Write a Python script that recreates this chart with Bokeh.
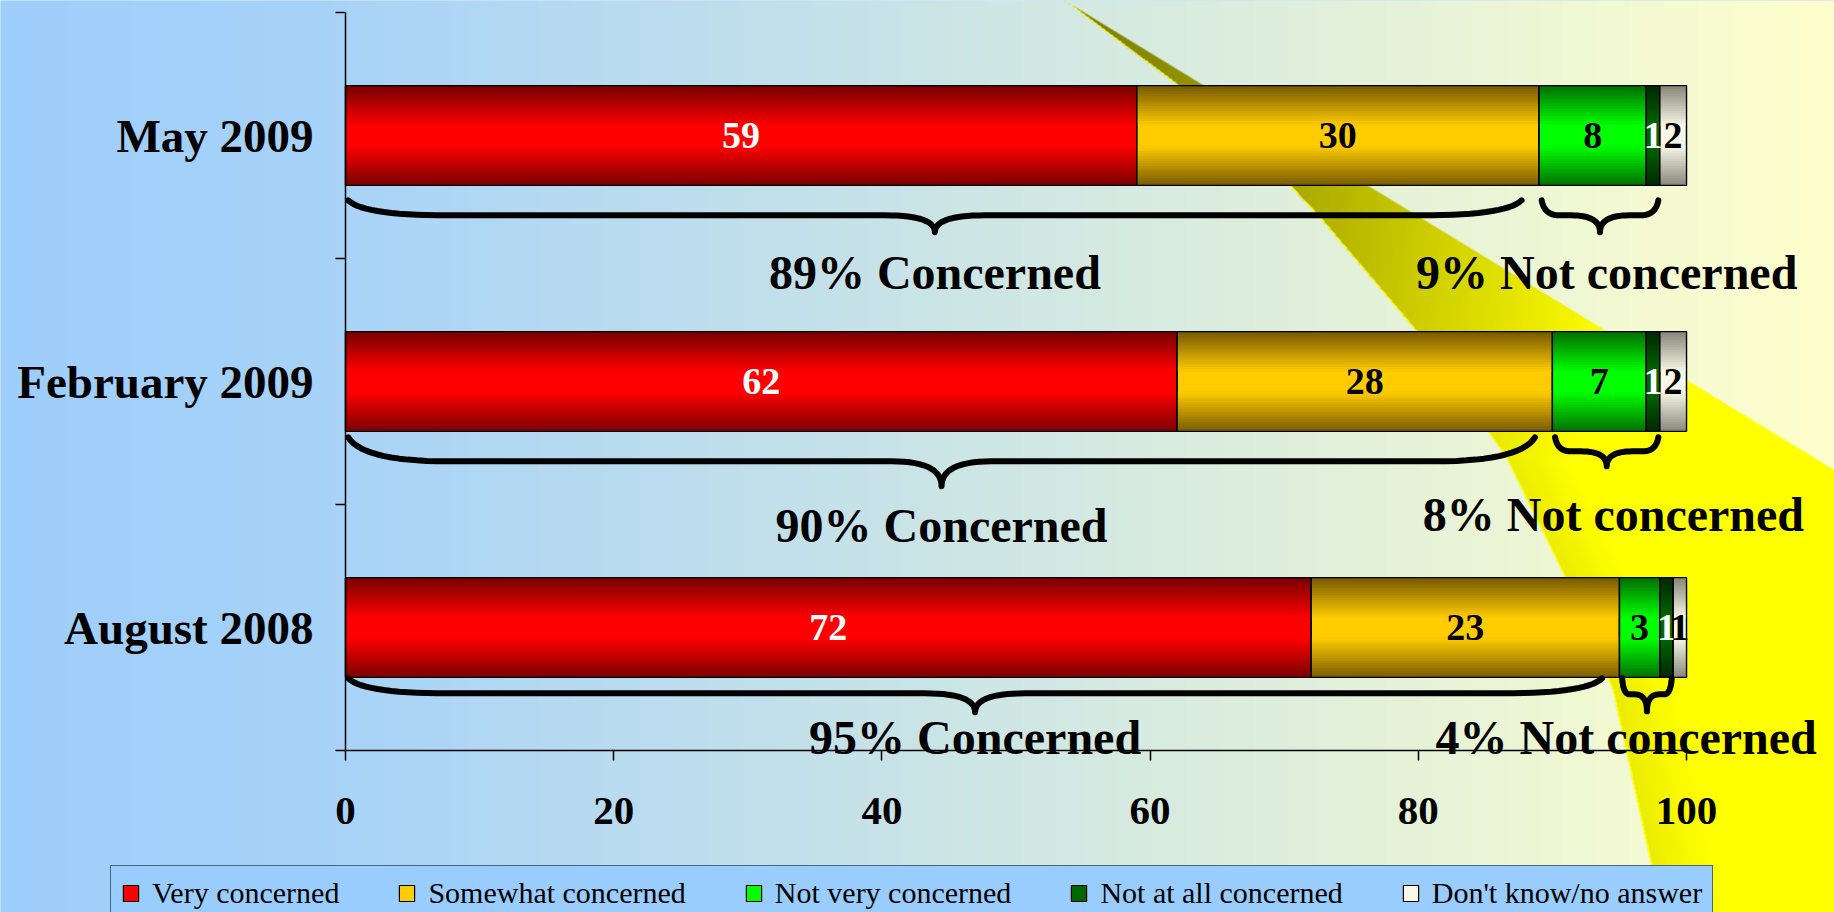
import numpy as np
from bokeh.plotting import figure
from bokeh.models import Range1d, FixedTicker, ColumnDataSource, Legend, LegendItem
from bokeh.core.properties import value
from bokeh.embed import file_html
from bokeh.resources import INLINE

# ---------------- data ----------------
categories = ["May 2009", "February 2009", "August 2008"]
series_names = ["Very concerned", "Somewhat concerned", "Not very concerned",
                "Not at all concerned", "Don't know/no answer"]
very_concerned = [59, 62, 72]
somewhat_concerned = [30, 28, 23]
not_very_concerned = [8, 7, 3]
not_at_all_concerned = [1, 1, 1]
dont_know = [2, 2, 1]
x_ticks = [0, 20, 40, 60, 80, 100]

series_values = [very_concerned, somewhat_concerned, not_very_concerned,
                 not_at_all_concerned, dont_know]

# ---------------- style ----------------
center_colors = ["#FF0000", "#FFCC00", "#00FF00", "#006600", "#F8F8E8"]
edge_colors = ["#780000", "#785A00", "#007000", "#002800", "#86867A"]
label_colors = ["white", "black", "black", "white", "black"]
SERIF = "Liberation Serif"

W, H = 1834, 912
X_ZERO_PX = 345.0
PX_PER_UNIT = 13.41
Y_TOP_PX = 12.0
BAND_PX = 246.0
n = len(categories)
X0 = -X_ZERO_PX / PX_PER_UNIT
X1 = (W - X_ZERO_PX) / PX_PER_UNIT
Y_TOP = n - 0.5
Y1 = Y_TOP + Y_TOP_PX / BAND_PX
Y0 = Y_TOP - (H - Y_TOP_PX) / BAND_PX
BAR_H = 0.405


def dxu(px):
    return px / PX_PER_UNIT


def dyu(px):
    return px / BAND_PX


ypos = [n - 1 - i for i in range(n)]

p = figure(width=W, height=H, x_range=Range1d(X0, X1), y_range=Range1d(Y0, Y1),
           output_backend="svg", toolbar_location=None, title=None, min_border=0)
p.outline_line_color = None
p.xgrid.visible = False
p.ygrid.visible = False
p.background_fill_color = "#A0CFFA"
p.border_fill_color = "#A0CFFA"

# ---------------- background (gradient + swoosh) ----------------
u = np.arange(W) + 0.5
v = np.arange(H) + 0.5
RX, RY = np.meshgrid(u, v)
bg = np.zeros((H, W, 3))
for ch, stops in enumerate([[158, 168, 255], [206, 211, 255], [252, 248, 204]]):
    bg[:, :, ch] = np.interp(RX, [0, 330, 1834], stops)

cy = [0, 83, 183, 217, 330, 456, 576, 689, 912, 1000]
cx = [1064, 1175, 1287, 1319, 1415, 1505, 1564, 1612, 1661, 1680]
xl = np.interp(RY, cy, cx)
dxl = RX - xl
slope = 0.61
dline = (RY - slope * (RX - 1064)) / np.sqrt(1 + slope ** 2)
alpha = np.clip(dxl + 0.5, 0, 1) * np.clip(dline + 0.5, 0, 1)
s = np.clip(RY / 500 + dxl / 500 - 0.05, 0, 1)
s = np.minimum(s, 0.85 + dxl / 400)
olive = np.array([128, 128, 0.0])
yellow = np.array([255, 255, 0.0])
sw = olive[None, None, :] + s[:, :, None] * (yellow - olive)[None, None, :]
hl = (dxl >= 0) & (dxl < 1.6)
sw[hl] = yellow
img = bg * (1 - alpha[:, :, None]) + sw * alpha[:, :, None]
img = np.flipud(img).astype(np.uint8)
rgba = np.empty((H, W), dtype=np.uint32)
view = rgba.view(dtype=np.uint8).reshape((H, W, 4))
view[:, :, 0] = img[:, :, 0]
view[:, :, 1] = img[:, :, 1]
view[:, :, 2] = img[:, :, 2]
view[:, :, 3] = 255
p.image_rgba(image=[rgba], x=X0, y=Y0, dw=X1 - X0, dh=Y1 - Y0)


# ---------------- bars ----------------
def hex2rgb(h):
    h = h.lstrip("#")
    return np.array([int(h[i:i + 2], 16) for i in (0, 2, 4)], dtype=float)


N_STRIPS = 40
legend_items = []
lefts = [0.0] * n
lab_x, lab_y, lab_t, lab_c = [], [], [], []
outline_data = dict(y=[], left=[], right=[])
for si, (name, vals) in enumerate(zip(series_names, series_values)):
    left = list(lefts)
    right = [l + v_ for l, v_ in zip(left, vals)]
    base = p.hbar(y=ypos, left=left, right=right, height=BAR_H,
                  fill_color=center_colors[si], line_color="black", line_width=1.2)
    legend_items.append(LegendItem(label=name, renderers=[base]))
    ce, ed = hex2rgb(center_colors[si]), hex2rgb(edge_colors[si])
    sy, sl, sr, sc = [], [], [], []
    for ci in range(n):
        for k in range(N_STRIPS):
            t = (k + 0.5) / N_STRIPS
            d = abs(2 * t - 1)
            f = min(1.0, max(0.0, (1 - d) / 0.8))
            if f >= 1.0:
                continue
            col = ed + (ce - ed) * f
            sy.append(ypos[ci] - BAR_H / 2 + t * BAR_H)
            sl.append(left[ci])
            sr.append(right[ci])
            sc.append("#%02x%02x%02x" % tuple(int(round(c)) for c in col))
    p.hbar(y="y", left="left", right="right", height=BAR_H / N_STRIPS + dyu(1.0),
           fill_color="color", line_color=None,
           source=ColumnDataSource(dict(y=sy, left=sl, right=sr, color=sc)))
    for ci in range(n):
        outline_data["y"].append(ypos[ci])
        outline_data["left"].append(left[ci])
        outline_data["right"].append(right[ci])
        lab_x.append((left[ci] + right[ci]) / 2)
        lab_y.append(ypos[ci])
        lab_t.append(str(vals[ci]))
        lab_c.append(label_colors[si])
    lefts = right

p.hbar(y="y", left="left", right="right", height=BAR_H, fill_color=None,
       line_color="black", line_width=1.3, source=ColumnDataSource(outline_data))

p.text(x="x", y="y", text="t", text_color="c",
       source=ColumnDataSource(dict(x=lab_x, y=lab_y, t=lab_t, c=lab_c)),
       text_font=value(SERIF), text_font_style="bold", text_font_size="38px",
       text_align="center", text_baseline="middle")


# ---------------- braces ----------------
def qbez(p0, c, p2, m=16):
    t = np.linspace(0, 1, m)
    xs = (1 - t) ** 2 * p0[0] + 2 * (1 - t) * t * c[0] + t ** 2 * p2[0]
    ys = (1 - t) ** 2 * p0[1] + 2 * (1 - t) * t * c[1] + t ** 2 * p2[1]
    return list(xs), list(ys)


def brace_path(x0, x1, ytop, arm_px, tip_px):
    wpx = (x1 - x0) * PX_PER_UNIT
    r = dxu(min(100.0, 0.15 * wpx))
    rt = dxu(min(50.0, 0.25 * wpx))
    xm = (x0 + x1) / 2
    yl = ytop - dyu(arm_px)
    yt = yl - dyu(tip_px)
    xs, ys = [], []
    for seg in [qbez((x0, ytop), (x0 + 0.15 * r, yl), (x0 + r, yl)),
                qbez((xm - rt, yl), (xm, yl), (xm, yt)),
                qbez((xm, yt), (xm, yl), (xm + rt, yl)),
                qbez((x1 - r, yl), (x1 - 0.15 * r, yl), (x1, ytop))]:
        xs += seg[0]
        ys += seg[1]
    return xs, ys


brace_gap_px = [15, 6, 1]
big_arm_px = [15, 24, 15]
big_tip_px = [17, 25, 19]
small_arm_px = [15, 14, 16]
small_tip_px = [17, 15, 17]
text_off_c_px = [87, 94, 60]
text_off_nc_px = [87, 83, 60]

bx, by = [], []
tx, ty, tt = [], [], []
for ci in range(n):
    conc = very_concerned[ci] + somewhat_concerned[ci]
    notc = not_very_concerned[ci] + not_at_all_concerned[ci]
    bottom = ypos[ci] - BAR_H / 2
    ytop = bottom - dyu(brace_gap_px[ci])
    x0b, x1b = 0.2, conc - 1.3
    xs, ys = brace_path(x0b, x1b, ytop, big_arm_px[ci], big_tip_px[ci])
    bx.append(xs)
    by.append(ys)
    x0s, x1s = conc + 0.2, conc + notc - 0.1
    xs, ys = brace_path(x0s, x1s, ytop, small_arm_px[ci], small_tip_px[ci])
    bx.append(xs)
    by.append(ys)
    tx.append((x0b + x1b) / 2)
    ty.append(bottom - dyu(text_off_c_px[ci]))
    tt.append(f"{conc}% Concerned")
    tx.append(min((x0s + x1s) / 2 + 0.5, 95.5))
    ty.append(bottom - dyu(text_off_nc_px[ci]))
    tt.append(f"{notc}% Not concerned")

p.multi_line(xs=bx, ys=by, line_color="black", line_width=6,
             line_cap="round", line_join="round")
p.text(x="x", y="y", text="t", source=ColumnDataSource(dict(x=tx, y=ty, t=tt)),
       text_font=value(SERIF), text_font_style="bold", text_font_size="48px",
       text_color="black", text_align="center", text_baseline="middle")

# ---------------- axes ----------------
xa = p.xaxis[0]
xa.fixed_location = -0.5
xa.bounds = (0, 100)
xa.ticker = FixedTicker(ticks=x_ticks, minor_ticks=[])
xa.axis_line_color = "black"
xa.axis_line_width = 1.5
xa.major_tick_line_color = "black"
xa.major_tick_line_width = 1.5
xa.major_tick_out = 10
xa.major_tick_in = 0
xa.minor_tick_line_color = None
xa.major_label_text_font = SERIF
xa.major_label_text_font_style = "bold"
xa.major_label_text_font_size = "41px"
xa.major_label_text_color = "black"
xa.major_label_standoff = 37

ya = p.yaxis[0]
ya.fixed_location = 0
ya.bounds = (-0.5, n - 0.5)
ya.ticker = FixedTicker(ticks=ypos, minor_ticks=[k - 0.5 for k in range(n + 1)])
ya.major_label_overrides = {ypos[i]: categories[i] for i in range(n)}
ya.axis_line_color = "black"
ya.axis_line_width = 1.5
ya.major_tick_line_color = None
ya.major_tick_out = 0
ya.major_tick_in = 0
ya.minor_tick_line_color = "black"
ya.minor_tick_line_width = 1.5
ya.minor_tick_out = 10
ya.minor_tick_in = 0
ya.major_label_text_font = SERIF
ya.major_label_text_font_style = "bold"
ya.major_label_text_font_size = "47px"
ya.major_label_text_color = "black"
ya.major_label_standoff = 22

# ---------------- legend ----------------
legend = Legend(items=legend_items, orientation="horizontal", location=(110, -9),
                label_text_font=SERIF, label_text_font_size="30px",
                label_text_color="black", glyph_width=19, glyph_height=20,
                label_standoff=12, spacing=58, padding=10, margin=0,
                background_fill_color="#99CCFF", background_fill_alpha=1.0,
                border_line_color="black", border_line_width=1.5)
p.add_layout(legend, "center")

open("out.html", "w").write(file_html(p, INLINE))
